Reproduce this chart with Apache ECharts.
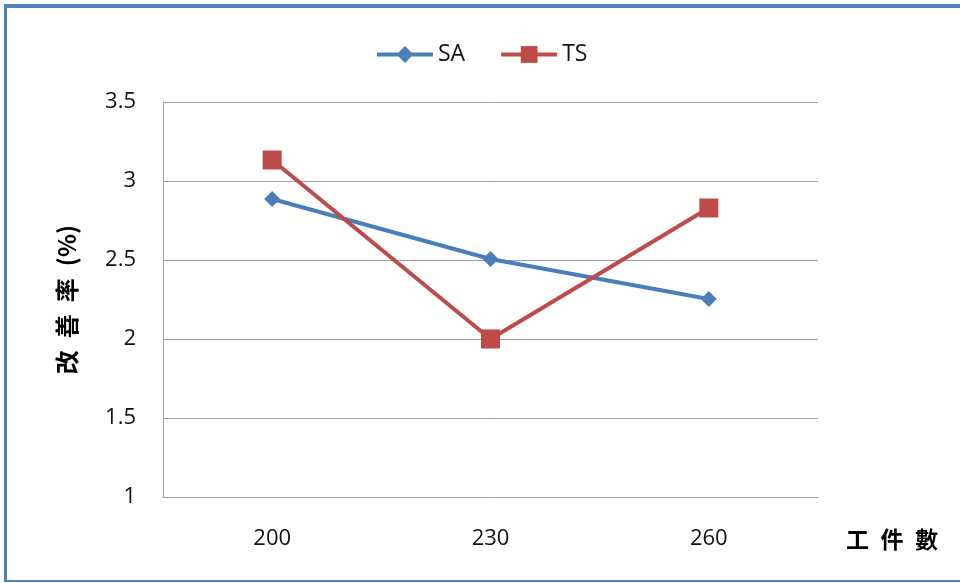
<!DOCTYPE html>
<html>
<head>
<meta charset="utf-8">
<script src="https://cdn.jsdelivr.net/npm/echarts@6/dist/echarts.min.js"></script>
<style>
  html, body { margin: 0; padding: 0; background: #fff; overflow: hidden; width: 960px; height: 583px; }
  #frame { position: absolute; left: 4px; top: 4px; width: 960px; height: 578px; box-sizing: border-box;
           border-left: 3px solid #4f81bd; border-top: 4px solid #4f81bd; border-bottom: 2px solid #4f81bd; }
  #chart { position: absolute; left: 0; top: 0; width: 960px; height: 583px; }
</style>
</head>
<body>
<div id="frame"></div>
<div id="chart"></div>
<script>
// Number of workpieces (x categories)
const categories = ['200', '230', '260'];
// Improvement rate (%) per method
const saValues = [2.886, 2.506, 2.253];
const tsValues = [3.133, 2.0, 2.829];

const chart = echarts.init(document.getElementById('chart'));
const labelFont = '"Open Sans", "Liberation Sans", sans-serif';
const cjkFont = '"Noto Sans CJK TC", sans-serif';

chart.setOption({
  animation: false,
  legend: {
    top: 38,
    left: 370,
    itemWidth: 56,
    itemHeight: 21,
    itemGap: 34,
    lineStyle: { width: 4 },
    textStyle: { fontFamily: labelFont, fontSize: 23, color: '#111' },
    data: ['SA', 'TS']
  },
  grid: { left: 163, right: 142, top: 102, bottom: 86, containLabel: false },
  xAxis: {
    type: 'category',
    data: categories,
    boundaryGap: true,
    axisLine: { lineStyle: { color: '#a0a0a0', width: 1 } },
    axisTick: { show: false },
    axisLabel: { fontFamily: labelFont, fontSize: 22, color: '#111', margin: 31 },
    name: '工\u2002件\u2002數',
    nameLocation: 'end',
    nameGap: 28,
    nameTextStyle: { fontFamily: cjkFont, fontSize: 23, fontWeight: 'bold', color: '#000',
                     verticalAlign: 'top', padding: [31, 0, 0, 0] }
  },
  yAxis: {
    type: 'value',
    min: 1, max: 3.5, interval: 0.5,
    axisLine: { show: true, lineStyle: { color: '#a0a0a0', width: 1 } },
    axisTick: { show: false },
    splitLine: { lineStyle: { color: '#a0a0a0', width: 1 } },
    axisLabel: { fontFamily: labelFont, fontSize: 22, color: '#111', margin: 27 },
    name: '改\u2002善\u2002率\u2002(%)',
    nameLocation: 'middle',
    nameGap: 84,
    nameRotate: 90,
    nameTextStyle: { fontFamily: cjkFont, fontSize: 24, fontWeight: 'bold', color: '#000' }
  },
  series: [
    {
      name: 'SA', type: 'line', data: saValues,
      symbol: 'diamond', symbolSize: 16,
      lineStyle: { color: '#4a7ebb', width: 4 },
      itemStyle: { color: '#4a7ebb' }
    },
    {
      name: 'TS', type: 'line', data: tsValues,
      symbol: 'rect', symbolSize: 19,
      lineStyle: { color: '#be4b48', width: 4 },
      itemStyle: { color: '#be4b48' }
    }
  ]
});
</script>
</body>
</html>
